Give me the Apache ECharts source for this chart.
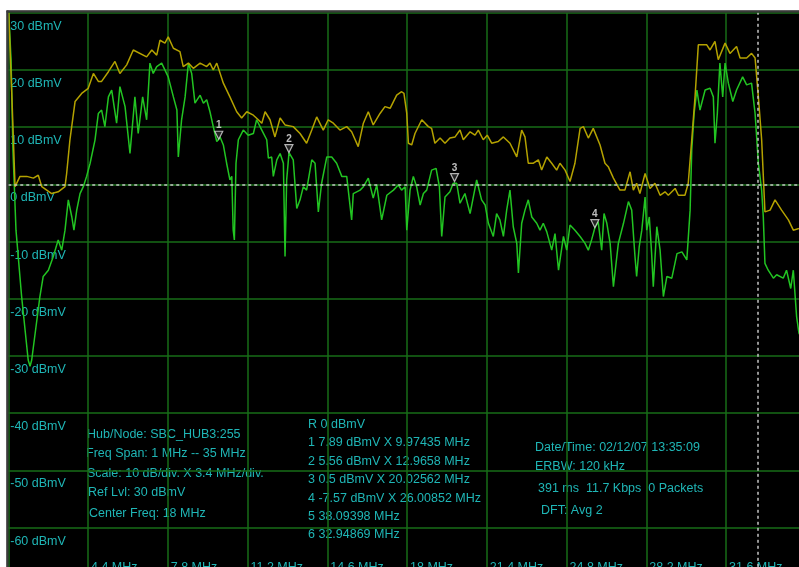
<!DOCTYPE html>
<html>
<head>
<meta charset="utf-8">
<style>
  html, body { margin: 0; padding: 0; background: #fff; }
  #chart { width: 799px; height: 567px; }
</style>
<script src="https://cdn.jsdelivr.net/npm/echarts@6/dist/echarts.min.js"></script>
</head>
<body>
<div id="chart"></div>
<script>
// Sweep settings (MHz / dBmV)
const SPAN_START = 1;
const SPAN_STOP = 35;
const MHZ_PER_DIV = 3.4;
const REF_LEVEL = 30;
const DB_PER_DIV = 10;
const FLOOR_LEVEL = -70;

// Peak-hold trace (yellow): [MHz, dBmV]
const peakTrace = [
  [1.02,30.0],[1.16,14.8],[1.29,-0.4],[1.50,1.4],[1.79,1.4],[2.07,1.1],[2.28,1.6],[2.43,-0.4],[2.64,-1.0],[2.85,-1.6],
  [3.13,-1.3],[3.42,-0.4],[3.49,1.9],[3.63,7.8],[3.85,14.5],[4.13,15.9],[4.41,16.8],[4.63,19.4],[4.84,18.0],[4.98,18.0],
  [5.27,19.7],[5.55,21.5],[5.76,19.4],[6.05,20.9],[6.33,23.5],[6.90,22.3],[7.12,23.5],[7.33,22.6],[7.47,25.2],[7.68,24.7],
  [7.82,25.8],[8.04,23.8],[8.32,23.2],[8.46,20.6],[8.68,21.2],[8.89,20.3],[9.18,21.2],[9.46,20.6],[9.60,21.2],[9.74,20.0],
  [9.89,21.2],[10.17,17.7],[10.45,15.3],[10.74,12.7],[10.95,11.6],[11.17,12.7],[11.45,12.1],[11.66,11.3],[11.81,10.7],[11.95,12.7],
  [12.16,11.3],[12.37,8.3],[12.59,11.6],[12.80,10.4],[13.15,10.1],[13.44,8.9],[13.72,7.2],[13.94,9.5],[14.15,11.8],[14.43,9.5],
  [14.64,11.3],[14.86,10.7],[15.14,9.5],[15.43,10.1],[15.64,9.2],[15.92,6.6],[16.14,10.7],[16.35,12.7],[16.56,10.4],[16.85,12.4],
  [17.06,13.6],[17.28,13.3],[17.56,15.6],[17.77,16.2],[17.87,15.9],[17.99,12.4],[18.06,7.2],[18.20,6.9],[18.34,8.9],[18.63,11.3],
  [18.91,10.1],[19.05,9.8],[19.19,7.2],[19.41,8.1],[19.62,7.2],[19.83,8.1],[20.05,8.3],[20.26,9.5],[20.40,7.8],[20.69,9.2],
  [20.90,8.6],[21.04,9.5],[21.25,7.8],[21.42,8.6],[21.61,7.2],[21.89,7.5],[22.11,8.3],[22.39,7.2],[22.68,4.8],[22.89,9.5],
  [23.03,8.3],[23.17,3.7],[23.39,3.7],[23.60,4.3],[23.74,2.5],[23.96,4.8],[24.17,3.7],[24.38,2.5],[24.52,3.7],[24.74,2.5],
  [24.95,0.5],[25.16,3.7],[25.38,9.8],[25.52,10.1],[25.73,8.1],[25.94,9.8],[26.23,6.9],[26.44,3.7],[26.58,3.1],[26.80,1.1],
  [27.08,-1.0],[27.29,-1.0],[27.51,2.2],[27.65,-1.0],[27.79,0.2],[27.93,-1.6],[28.15,1.9],[28.36,-0.7],[28.57,0.2],[28.79,-1.9],
  [29.00,-1.3],[29.14,-1.9],[29.43,-0.7],[29.57,-1.9],[29.85,-1.9],[29.99,0.2],[30.14,7.8],[30.28,15.3],[30.42,24.4],[30.78,24.4],
  [30.92,23.5],[31.13,25.0],[31.27,21.8],[31.56,24.7],[31.77,22.9],[32.05,24.1],[32.20,22.1],[32.48,22.1],[32.69,22.9],[32.84,22.1],
  [32.98,15.3],[33.12,7.8],[33.26,-4.8],[33.48,-4.5],[33.69,-2.7],[33.97,-4.5],[34.26,-6.2],[34.47,-8.0],[34.71,-7.7],[35.00,-7.3]
];

// Averaged live trace (green): [MHz, dBmV]
const liveTrace = [
  [1.02,30.0],[1.12,21.8],[1.20,6.0],[1.33,-8.0],[1.57,-19.6],[1.85,-30.7],[1.93,-31.8],[2.00,-30.7],[2.35,-19.6],[2.49,-16.1],
  [2.71,-15.0],[2.92,-12.6],[3.13,-9.7],[3.28,-11.5],[3.42,-8.0],[3.56,-2.7],[3.71,-5.7],[3.80,-8.0],[3.92,-4.5],[4.06,-1.6],
  [4.20,-0.4],[4.34,1.4],[4.49,3.7],[4.70,7.8],[4.84,12.4],[4.98,13.0],[5.12,10.1],[5.27,15.3],[5.41,16.5],[5.62,10.7],
  [5.76,17.1],[5.98,13.6],[6.19,5.4],[6.40,15.3],[6.54,8.9],[6.73,15.3],[6.90,11.3],[7.04,21.2],[7.18,19.4],[7.33,20.6],
  [7.54,21.2],[7.82,18.8],[8.04,15.3],[8.19,13.0],[8.25,4.8],[8.39,11.3],[8.54,15.3],[8.68,21.2],[8.82,19.4],[8.96,14.2],
  [9.18,15.6],[9.32,14.2],[9.46,14.8],[9.60,12.7],[9.74,10.1],[9.89,7.5],[9.97,7.89],[10.03,8.3],[10.17,6.9],[10.31,3.7],
  [10.45,0.8],[10.53,1.4],[10.59,-8.0],[10.64,-9.7],[10.71,3.7],[10.81,7.8],[11.02,9.5],[11.23,8.6],[11.45,8.9],[11.59,11.3],
  [11.81,9.5],[12.02,7.8],[12.09,4.6],[12.23,4.8],[12.30,1.4],[12.45,4.3],[12.59,5.4],[12.73,3.7],[12.80,-12.6],[12.87,0.8],
  [12.97,5.56],[13.15,4.3],[13.30,-4.2],[13.44,-2.7],[13.58,-0.4],[13.72,-1.0],[13.94,4.3],[14.08,3.7],[14.22,-4.8],[14.36,0.2],
  [14.58,4.8],[14.79,4.8],[15.00,3.7],[15.22,1.4],[15.43,1.4],[15.64,-6.2],[15.71,-1.6],[16.00,-1.0],[16.14,-0.4],[16.35,1.1],
  [16.56,-2.4],[16.71,-0.1],[16.92,-6.2],[17.14,-1.9],[17.42,-1.0],[17.63,-0.1],[17.77,-1.0],[17.92,-0.4],[17.99,-8.0],[18.13,-1.0],
  [18.27,1.4],[18.41,-0.4],[18.56,-3.6],[18.70,-1.6],[18.84,-1.0],[19.05,2.5],[19.24,2.8],[19.38,-0.4],[19.48,-9.1],[19.62,-2.2],
  [19.83,-1.3],[19.97,0.2],[20.03,0.5],[20.12,0.2],[20.26,-3.3],[20.47,-1.6],[20.69,-5.1],[20.97,0.8],[21.18,-2.7],[21.33,-3.6],
  [21.47,-6.8],[21.68,-9.1],[21.82,-5.1],[21.96,-6.2],[22.11,-9.1],[22.25,-4.5],[22.39,-1.0],[22.53,-7.4],[22.68,-10.3],[22.75,-15.5],
  [22.89,-6.8],[23.03,-4.5],[23.17,-2.7],[23.32,-5.7],[23.53,-6.8],[23.67,-8.0],[23.81,-6.8],[23.96,-8.3],[24.17,-11.5],[24.31,-8.6],
  [24.46,-15.0],[24.67,-9.1],[24.81,-11.5],[24.95,-7.1],[25.16,-8.0],[25.38,-9.1],[25.59,-10.3],[25.73,-11.5],[25.87,-9.7],[26.01,-7.57],
  [26.15,-6.5],[26.30,-11.5],[26.40,-5.1],[26.52,-6.8],[26.66,-10.3],[26.80,-17.9],[27.01,-10.3],[27.23,-6.8],[27.44,-3.0],[27.58,-4.5],
  [27.72,-12.6],[27.79,-16.1],[27.90,-10.9],[28.01,-8.0],[28.15,-2.2],[28.22,-8.0],[28.33,-5.7],[28.43,-12.1],[28.50,-17.9],[28.65,-7.4],
  [28.79,-11.5],[28.93,-19.6],[29.08,-16.1],[29.29,-16.4],[29.51,-12.1],[29.72,-11.8],[29.93,-13.2],[30.07,-4.5],[30.14,6.0],[30.24,12.4],
  [30.36,16.5],[30.49,13.0],[30.71,16.5],[30.92,16.8],[31.06,15.3],[31.13,7.2],[31.23,12.4],[31.34,21.2],[31.46,15.3],[31.56,21.2],
  [31.70,17.7],[31.89,14.5],[32.05,16.5],[32.31,18.8],[32.48,17.4],[32.69,17.7],[32.84,12.4],[32.98,3.7],[33.12,-1.0],[33.19,-5.7],
  [33.26,-13.8],[33.40,-15.0],[33.62,-16.4],[33.76,-15.8],[34.04,-16.4],[34.18,-15.0],[34.36,-18.2],[34.47,-15.0],[34.61,-23.1],[34.71,-26.0],
  [35.00,-28.0]
];

// Level markers 1-4 (frequency, level) and frequency-only markers 5-6
const markerFreqs = [9.97435, 12.9658, 20.02562, 26.00852];
const markerLevels = ['7.89', '5.56', '0.5', '-7.57'];
const freqMarkers = ['38.09398', '32.94869'];
const refLine = 0;

// Instrument status text
const setupLines = [
  'Hub/Node: SBC_HUB3:255',
  'Freq Span: 1 MHz -- 35 MHz',
  'Scale: 10 dB/div. X 3.4 MHz/div.',
  'Ref Lvl: 30 dBmV',
  'Center Freq: 18 MHz'
];
const sweepLines = [
  'Date/Time: 02/12/07 13:35:09',
  'ERBW: 120 kHz',
  '391 ms  11.7 Kbps  0 Packets',
  'DFT: Avg 2'
];

const TEXT_COLOR = '#1fb6b6';
const GRID_COLOR = '#176c17';
const FONT = '12.5px "Liberation Sans", Arial, sans-serif';

// The frequency axis counts from the span start so that the 3.4 MHz divisions start at 0.
const toAxis = (pts) => pts.map(p => [p[0] - SPAN_START, p[1]]);

const markerReadout = ['R ' + refLine + ' dBmV']
  .concat(markerFreqs.map((f, i) => (i + 1) + ' ' + markerLevels[i] + ' dBmV X ' + f + ' MHz'))
  .concat(freqMarkers.map((f, i) => (i + 5) + ' ' + f + ' MHz'));

const textBlock = (lines, xs, ys) => lines.map((t, i) => ({
  type: 'text',
  x: xs[i], y: ys[i],
  silent: true,
  style: { text: t, fill: TEXT_COLOR, font: FONT, align: 'left', verticalAlign: 'middle' }
}));

const chart = echarts.init(document.getElementById('chart'), null, { renderer: 'canvas' });

chart.setOption({
  animation: false,
  backgroundColor: '#000',
  grid: { left: 8.25, top: 12.8, width: 797.5, height: 572, outerBoundsMode: 'none', containLabel: false },
  xAxis: {
    type: 'value',
    min: 0,
    max: SPAN_STOP - SPAN_START,
    interval: MHZ_PER_DIV,
    axisLine: { show: false },
    axisTick: { show: false },
    splitLine: { show: true, lineStyle: { color: GRID_COLOR, width: 1.5 } },
    axisLabel: {
      inside: true,
      margin: 24,
      verticalAlign: 'top',
      align: 'left',
      padding: [0, 0, 0, 3],
      showMinLabel: false,
      showMaxLabel: false,
      color: TEXT_COLOR,
      fontFamily: '"Liberation Sans", Arial, sans-serif',
      fontSize: 12.5,
      formatter: v => Number((v + SPAN_START).toFixed(1)) + ' MHz'
    }
  },
  yAxis: {
    type: 'value',
    min: FLOOR_LEVEL,
    max: REF_LEVEL,
    interval: DB_PER_DIV,
    axisLine: { show: false },
    axisTick: { show: false },
    splitLine: { show: true, lineStyle: { color: GRID_COLOR, width: 1.5 } },
    axisLabel: {
      inside: true,
      margin: 2,
      verticalAlign: 'top',
      padding: [7, 0, 0, 0],
      color: TEXT_COLOR,
      fontFamily: '"Liberation Sans", Arial, sans-serif',
      fontSize: 12.5,
      formatter: v => v + ' dBmV'
    }
  },
  series: [
    {
      name: 'Live',
      type: 'line',
      data: toAxis(liveTrace),
      showSymbol: false,
      lineStyle: { color: '#22c422', width: 1.5 },
      z: 2
    },
    {
      name: 'Peak',
      type: 'line',
      data: toAxis(peakTrace),
      showSymbol: false,
      lineStyle: { color: '#b4a200', width: 1.5 },
      z: 3
    },
    {
      name: 'Markers',
      type: 'scatter',
      data: markerFreqs.map((f, i) => ({ value: [f - SPAN_START, Number(markerLevels[i])], name: String(i + 1) })),
      symbol: 'path://M0,0L10,0L5,9Z',
      symbolSize: [8, 8],
      symbolOffset: [0, -4],
      itemStyle: { color: '#2a2a2a', borderColor: '#dcdcdc', borderWidth: 1.2 },
      label: {
        show: true,
        position: 'top',
        distance: 0,
        formatter: p => p.name,
        color: '#ececec',
        fontSize: 10,
        fontWeight: 'bold',
        fontFamily: '"Liberation Sans", Arial, sans-serif'
      },
      z: 5,
      markLine: {
        silent: true,
        symbol: ['none', 'none'],
        label: { show: false },
        lineStyle: { color: '#c4c4c4', type: [3, 3], width: 1.5 },
        data: [
          { yAxis: refLine },
          { xAxis: Number(freqMarkers[1]) - SPAN_START }
        ]
      }
    }
  ],
  graphic: [
    // page margin and instrument frame
    { type: 'rect', shape: { x: 0, y: 0, width: 799, height: 10.5 }, style: { fill: '#fff' }, silent: true, z: 10 },
    { type: 'rect', shape: { x: 0, y: 0, width: 6.5, height: 567 }, style: { fill: '#fff' }, silent: true, z: 10 },
    { type: 'line', shape: { x1: 6.5, y1: 11.5, x2: 799, y2: 11.5 }, style: { stroke: '#3a3a3a', lineWidth: 2 }, silent: true, z: 10 },
    { type: 'line', shape: { x1: 7.5, y1: 10.5, x2: 7.5, y2: 567 }, style: { stroke: '#3a3a3a', lineWidth: 2 }, silent: true, z: 10 }
  ]
    .concat(textBlock(setupLines, [87, 86, 87, 88, 89], [435, 453.5, 473.5, 492.5, 513.5]))
    .concat(textBlock(markerReadout, [308, 308, 308, 308, 308, 308, 308], [425, 443, 462, 480, 499, 517, 535]))
    .concat(textBlock(sweepLines, [535, 535, 538, 541], [447.5, 467, 489, 511]))
});
</script>
</body>
</html>
